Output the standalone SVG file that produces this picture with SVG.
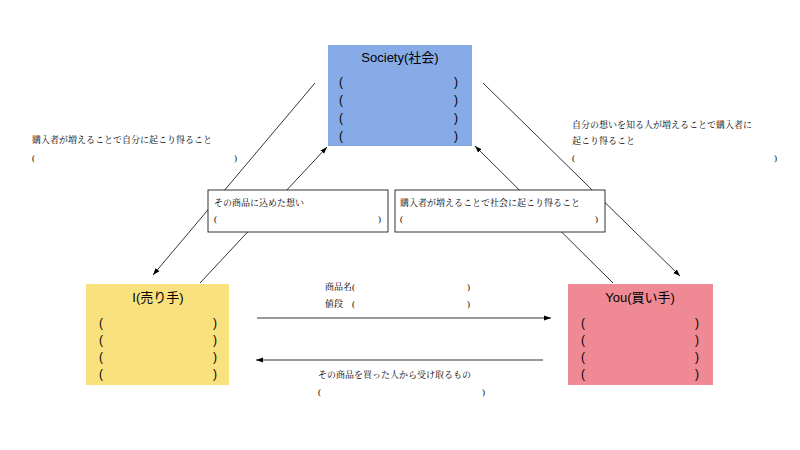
<svg xmlns="http://www.w3.org/2000/svg" width="800" height="450" viewBox="0 0 800 450">
<defs>
<marker id="ah" markerWidth="8" markerHeight="8" refX="7" refY="4" orient="auto" markerUnits="userSpaceOnUse"><path d="M0,1.5 L7,4 L0,6.5 Z" fill="#000"/></marker>
<style>
.h{font-family:"Liberation Sans","Noto Sans CJK JP",sans-serif;font-size:13px;fill:#000;text-anchor:middle}
.p{font-family:"Liberation Sans",sans-serif;font-size:12px;fill:#000}
.s{font-family:"Liberation Serif","Noto Serif CJK JP","Noto Sans CJK JP",serif;font-size:9px;fill:#000}
.l{stroke:#000;stroke-width:0.8;fill:none}
.b{fill:#fff;stroke:#000;stroke-width:0.8}
</style>
</defs>
<rect width="800" height="450" fill="#fff"/>
<g id="connectors">
<line class="l" x1="315" y1="83" x2="153" y2="275" marker-end="url(#ah)"/>
<line class="l" x1="200" y1="283" x2="327" y2="147" marker-end="url(#ah)"/>
<line class="l" x1="613" y1="283" x2="475" y2="146" marker-end="url(#ah)"/>
<line class="l" x1="483" y1="83" x2="680" y2="276" marker-end="url(#ah)"/>
<line class="l" x1="257" y1="318" x2="551" y2="318" marker-end="url(#ah)"/>
<line class="l" x1="543" y1="360" x2="256" y2="360" marker-end="url(#ah)"/>
</g>
<g id="society">
<rect x="328" y="45" width="144" height="101" fill="#86abe6"/>
<text class="h" x="400" y="62">Society(社会)</text>
<g class="p"><text x="339" y="86">(</text><text x="339" y="104">(</text><text x="339" y="122">(</text><text x="339" y="140">(</text>
<text x="454" y="86">)</text><text x="454" y="104">)</text><text x="454" y="122">)</text><text x="454" y="140">)</text></g>
</g>
<g id="seller">
<rect x="86" y="284" width="143" height="101" fill="#f9e27e"/>
<text class="h" x="158" y="302">I(売り手)</text>
<g class="p"><text x="99" y="327">(</text><text x="99" y="344">(</text><text x="99" y="361">(</text><text x="99" y="378">(</text>
<text x="213" y="327">)</text><text x="213" y="344">)</text><text x="213" y="361">)</text><text x="213" y="378">)</text></g>
</g>
<g id="buyer">
<rect x="568" y="284" width="145" height="101" fill="#ef8a94"/>
<text class="h" x="640" y="302">You(買い手)</text>
<g class="p"><text x="581" y="327">(</text><text x="581" y="344">(</text><text x="581" y="361">(</text><text x="581" y="378">(</text>
<text x="695" y="327">)</text><text x="695" y="344">)</text><text x="695" y="361">)</text><text x="695" y="378">)</text></g>
</g>
<g id="box-thought">
<rect class="b" x="208" y="190" width="180" height="42"/>
<text class="s" x="214" y="206">その商品に込めた想い</text>
<text class="s" x="214" y="222">(</text><text class="s" x="378" y="222">)</text>
</g>
<g id="box-society-effect">
<rect class="b" x="395" y="190" width="210" height="42"/>
<text class="s" x="400" y="206">購入者が増えることで社会に起こり得ること</text>
<text class="s" x="400" y="222">(</text><text class="s" x="595" y="222">)</text>
</g>
<g id="label-left">
<text class="s" x="32" y="143">購入者が増えることで自分に起こり得ること</text>
<text class="s" x="32" y="161">(</text><text class="s" x="234" y="161">)</text>
</g>
<g id="label-right">
<text class="s" x="572" y="128">自分の想いを知る人が増えることで購入者に</text>
<text class="s" x="572" y="144">起こり得ること</text>
<text class="s" x="572" y="161">(</text><text class="s" x="774" y="161">)</text>
</g>
<g id="label-product">
<text class="s" x="325" y="290">商品名(</text><text class="s" x="467" y="290">)</text>
<text class="s" x="325" y="307">値段　(</text><text class="s" x="467" y="307">)</text>
</g>
<g id="label-receive">
<text class="s" x="318" y="378">その商品を買った人から受け取るもの</text>
<text class="s" x="318" y="395">(</text><text class="s" x="482" y="395">)</text>
</g>
</svg>
